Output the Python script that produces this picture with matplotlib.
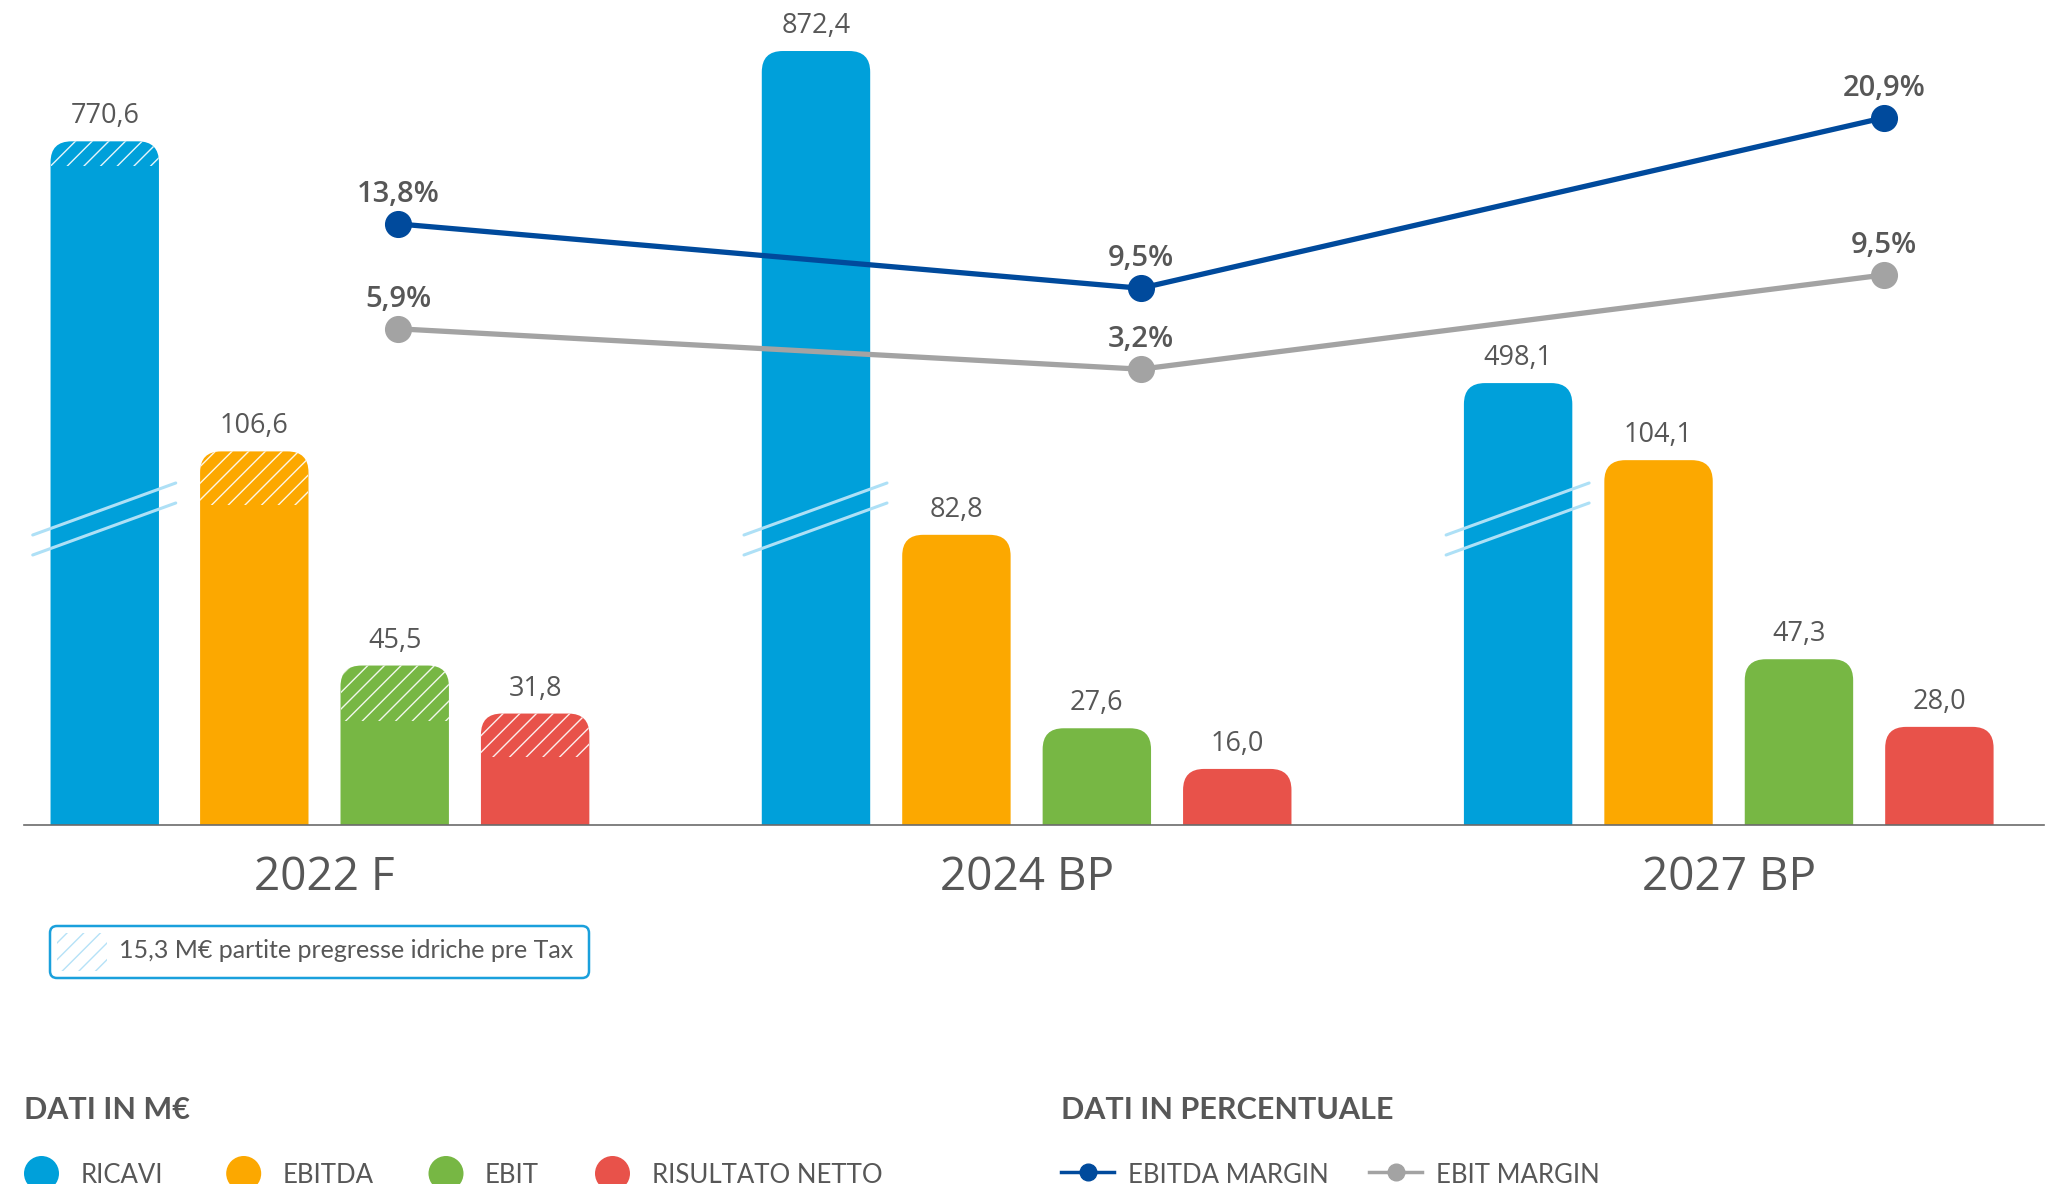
import numpy as np
import matplotlib.pyplot as plt
from matplotlib.patches import FancyBboxPatch, Rectangle, Circle
from matplotlib.lines import Line2D

plt.rcParams['font.family'] = ['Open Sans', 'DejaVu Sans']
plt.rcParams['hatch.linewidth'] = 1.0

# ---------------------------------------------------------------
# Data (M€ and %)
# ---------------------------------------------------------------
years = ['2022 F', '2024 BP', '2027 BP']
series_names = ['RICAVI', 'EBITDA', 'EBIT', 'RISULTATO NETTO']
ricavi = [770.6, 872.4, 498.1]
ebitda = [106.6, 82.8, 104.1]
ebit = [45.5, 27.6, 47.3]
risultato = [31.8, 16.0, 28.0]
ebitda_margin = [13.8, 9.5, 20.9]
ebit_margin = [5.9, 3.2, 9.5]
# hatched share of the 2022 bars (partite pregresse idriche)
partite_2022 = [27.8, 15.3, 15.8, 12.4]
note_text = '15,3 M€ partite pregresse idriche pre Tax'

bar_colors = ['#00a0da', '#fca800', '#77b744', '#e8524a']
line_colors = ['#004a9c', '#a3a3a3']
GRAY = '#575757'
BREAK = '#aee0f6'


def fmt(v, pct=False):
    s = f'{v:.1f}'.replace('.', ',')
    return s + '%' if pct else s


# ---------------------------------------------------------------
# Figure / axes layout (pixel based)
# ---------------------------------------------------------------
W, H = 2052, 1184
fig = plt.figure(figsize=(W / 100, H / 100), dpi=100)
base_px = 825
ax = fig.add_axes([24 / W, (H - base_px) / H, 2020 / W, base_px / H])
axr = ax.twinx()    # ricavi (broken scale)
axm1 = ax.twinx()   # ebitda margin
axm2 = ax.twinx()   # ebit margin

ax.set_xlim(-0.428, 2.449)
ax.set_ylim(0, 235.4)
axr.set_ylim(0, 929.9)
axm1.set_ylim(-26.38, 28.77)
axm2.set_ylim(-27.27, 27.88)
for a in (ax, axr, axm1, axm2):
    a.set_axis_off()

x = np.arange(len(years))
width = 0.1544
step = 0.200
offsets = (np.arange(4) - 1.5) * step
ricavi_nudge = np.array([-0.013, 0, 0])   # first group's ricavi bar sits a bit left
margin_x = x + np.array([0.105, 0.1625, 0.221])


def px_units(axis):
    xpp = np.diff(axis.get_xlim())[0] / axis.bbox.width
    ypp = np.diff(axis.get_ylim())[0] / axis.bbox.height
    return xpp, ypp


def round_bars(axis, bars, radius=21):
    xpp, ypp = px_units(axis)
    patches = []
    for rect in bars:
        x0, w, h = rect.get_x(), rect.get_width(), rect.get_height()
        rect.set_visible(False)
        p = FancyBboxPatch((x0, -radius * ypp), w, h + radius * ypp,
                           boxstyle=f'round,pad=0,rounding_size={radius * xpp}',
                           mutation_aspect=ypp / xpp,
                           fc=rect.get_facecolor(), lw=0, zorder=2)
        axis.add_patch(p)
        patches.append(p)
    return patches


# ---------------------------------------------------------------
# Bars
# ---------------------------------------------------------------
values = [ricavi, ebitda, ebit, risultato]
for s, vals in enumerate(values):
    axis = axr if s == 0 else ax
    xs = x + offsets[s] + (ricavi_nudge if s == 0 else 0)
    bars = axis.bar(xs, vals, width, color=bar_colors[s])
    patches = round_bars(axis, bars)
    # hatched top of the 2022 bar
    p = patches[0]
    hv = partite_2022[s]
    hr = Rectangle((bars[0].get_x(), vals[0] - hv), width, hv * 3,
                   fc='none', ec=(1, 1, 1, 0.9), lw=0, hatch='//', zorder=3)
    hr.set_clip_path(p)
    axis.add_patch(hr)
    for xi, v in zip(xs, vals):
        axis.annotate(fmt(v), (xi, v), xytext=(0, 18), textcoords='offset pixels',
                      ha='center', va='baseline', fontsize=19.5, color=GRAY)

# break marks on the ricavi bars
xpp, ypp = px_units(axr)
for xi in x + offsets[0] + ricavi_nudge:
    for y0, y1 in [(270, 322), (290, 342)]:
        axr.plot([xi - 72 * xpp, xi + 71 * xpp], [y0 * ypp, y1 * ypp],
                 color=BREAK, lw=2.2, solid_capstyle='round', zorder=4)

# ---------------------------------------------------------------
# Margin lines
# ---------------------------------------------------------------
for axis, vals, col in [(axm1, ebitda_margin, line_colors[0]),
                        (axm2, ebit_margin, line_colors[1])]:
    axis.plot(margin_x, vals, color=col, lw=3.8, marker='o', ms=18.5, zorder=5)
    for xi, v in zip(margin_x, vals):
        axis.annotate(fmt(v, pct=True), (xi, v), xytext=(0, 22),
                      textcoords='offset pixels', ha='center', va='baseline',
                      fontsize=21, fontweight='semibold', color=GRAY)

# baseline
axm2.plot([0, 1], [0, 0], transform=axm2.transAxes, color='#6b6b6b', lw=1.2,
          clip_on=False, zorder=6)

# category labels
for xi, yr in zip(x, years):
    ax.annotate(yr, (xi, 0), xytext=(0, -65), textcoords='offset pixels',
                ha='center', va='baseline', fontsize=33, color=GRAY,
                annotation_clip=False)

# ---------------------------------------------------------------
# Legend area (pixel coordinates)
# ---------------------------------------------------------------
lax = fig.add_axes([0, 0, 1, 1])
lax.set_xlim(0, W)
lax.set_ylim(H, 0)
lax.set_axis_off()
lato = ['Lato', 'DejaVu Sans']

box = FancyBboxPatch((50, 926), 539, 52, boxstyle='round,pad=0,rounding_size=7',
                     fc='white', ec='#1aa0dc', lw=1.8)
lax.add_patch(box)
sw = Rectangle((57, 933), 50, 38, fc='white', ec='#b5e2f7', lw=0, hatch='//')
lax.add_patch(sw)
lax.text(119, 958.5, note_text, fontsize=18, color=GRAY, va='baseline',
         family=lato)

lax.text(24, 1119, 'DATI IN M€', fontsize=22, fontweight='bold', color=GRAY,
         va='baseline', family=lato)
lax.text(1061, 1119, 'DATI IN PERCENTUALE', fontsize=22, fontweight='bold',
         color=GRAY, va='baseline', family=lato)

legend_cx = [41.5, 243.7, 446, 612.5]
for cx, name, col in zip(legend_cx, series_names, bar_colors):
    lax.add_patch(Circle((cx, 1173.5), 17.5, color=col, lw=0))
    lax.text(cx + 39, 1183, name, fontsize=18.5, color=GRAY, va='baseline',
             family=lato)

line_legend = [('EBITDA MARGIN', 1061), ('EBIT MARGIN', 1369)]
for (name, lx), col in zip(line_legend, line_colors):
    lax.add_line(Line2D([lx, lx + 53], [1172, 1172], color=col, lw=2.5))
    lax.plot([lx + 26.5], [1172], marker='o', ms=12, color=col)
    lax.text(lx + 67, 1183, name, fontsize=18.5, color=GRAY, va='baseline',
             family=lato)

fig.savefig('out.png', dpi=100)
